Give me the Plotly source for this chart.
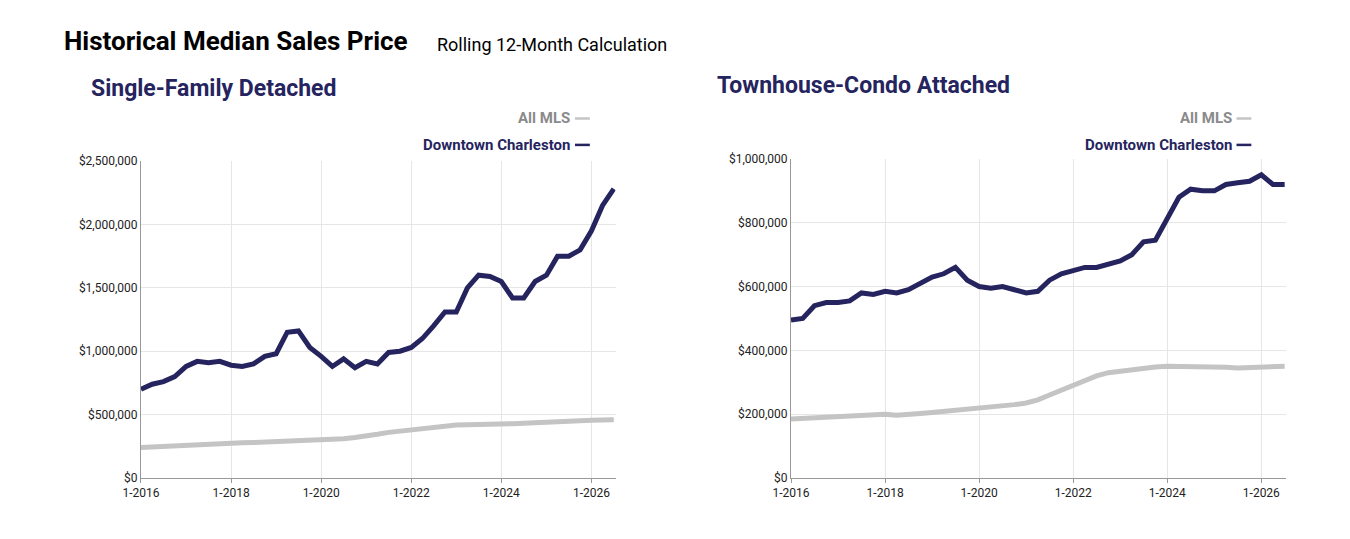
import pandas as pd
import plotly.graph_objects as go

# quarterly readings, Jan 2016 .. Jul 2026
dates = pd.date_range("2016-01-01", "2026-07-01", freq="QS").strftime("%Y-%m-%d").tolist()

sf_downtown = [700, 740, 760, 800, 880, 920, 910, 920, 890, 880, 900, 960, 980, 1150, 1160,
               1030, 960, 880, 940, 870, 920, 900, 990, 1000, 1030, 1100, 1200, 1310, 1310,
               1500, 1600, 1590, 1550, 1420, 1420, 1550, 1600, 1750, 1750, 1800, 1950, 2150, 2280]
sf_allmls = [240, 245, 250, 255, 260, 265, 268, 272, 275, 278, 280, 283, 285, 288, 290,
             292, 295, 300, 310, 320, 330, 345, 360, 370, 380, 395, 405, 412, 418, 420,
             420, 422, 425, 428, 432, 438, 442, 448, 450, 452, 455, 458, 460]

th_downtown = [495, 500, 540, 550, 550, 555, 580, 575, 585, 580, 590, 610, 630, 640, 660,
               620, 600, 595, 600, 590, 580, 585, 620, 640, 650, 660, 660, 670, 680, 700,
               740, 745, 810, 880, 905, 900, 900, 920, 925, 930, 950, 920, 920]
th_allmls = [185, 187, 190, 193, 195, 197, 198, 200, 200, 197, 198, 202, 205, 208, 212,
             215, 218, 222, 225, 230, 235, 245, 260, 275, 290, 305, 320, 330, 335, 340,
             345, 348, 350, 350, 350, 350, 348, 347, 345, 346, 348, 350, 350]

NAVY = "#25245e"
GREY = "#c4c4c4"
FONT = "Liberation Sans Narrow, Roboto, Arial Narrow, sans-serif"

fig = go.Figure()
panels = [("x", "y", sf_allmls, sf_downtown), ("x2", "y2", th_allmls, th_downtown)]
for xa, ya, allmls, downtown in panels:
    fig.add_trace(go.Scatter(x=dates, y=[v * 1000 for v in allmls], xaxis=xa, yaxis=ya,
                             mode="lines", line=dict(color=GREY, width=5), showlegend=False))
    fig.add_trace(go.Scatter(x=dates, y=[v * 1000 for v in downtown], xaxis=xa, yaxis=ya,
                             mode="lines", line=dict(color=NAVY, width=5), showlegend=False))

xcommon = dict(type="date", range=["2016-01-01", "2026-07-15"], tickformat="%-m-%Y",
               dtick="M24", tick0="2016-01-01", showgrid=True, gridcolor="#e6e6e6",
               showline=True, linecolor="#999", ticks="outside", tickcolor="#999", ticklen=4,
               tickfont=dict(size=12, color="#222"))
ycommon = dict(showgrid=True, gridcolor="#e6e6e6", showline=True, linecolor="#999",
               tickprefix="$", tickformat=",d", tickfont=dict(size=12, color="#222"))

fig.update_layout(
    width=1350, height=539, paper_bgcolor="white", plot_bgcolor="white",
    margin=dict(l=0, r=0, t=0, b=0, autoexpand=False), font=dict(family=FONT),
    xaxis=dict(xcommon, domain=[0.0985, 0.45], anchor="y"),
    yaxis=dict(ycommon, domain=[0.128, 0.716], range=[0, 2500000], dtick=500000, anchor="x"),
    xaxis2=dict(xcommon, domain=[0.58, 0.947], anchor="y2"),
    yaxis2=dict(ycommon, domain=[0.128, 0.72], range=[0, 1000000], dtick=200000, anchor="x2"),
)

ann = [
    dict(x=0.04, y=0.97, text="<b>Historical Median Sales Price</b>", font=dict(size=26, color="black")),
    dict(x=0.316, y=0.955, text="Rolling 12-Month Calculation", font=dict(size=18, color="black")),
    dict(x=0.06, y=0.88, text="<b>Single-Family Detached</b>", font=dict(size=23, color=NAVY)),
    dict(x=0.524, y=0.885, text="<b>Townhouse-Condo Attached</b>", font=dict(size=23, color=NAVY)),
]
for a in ann:
    fig.add_annotation(xref="paper", yref="paper", xanchor="left", yanchor="top", showarrow=False, **a)

# legend entries drawn as text with a short dash
for right in (0.418, 0.908):
    fig.add_annotation(xref="paper", yref="paper", x=right, y=0.795, xanchor="right", yanchor="middle",
                       showarrow=False, text="<b>All MLS</b>", font=dict(size=15, color="#8a8a8a"))
    fig.add_annotation(xref="paper", yref="paper", x=right, y=0.746, xanchor="right", yanchor="middle",
                       showarrow=False, text="<b>Downtown Charleston</b>", font=dict(size=15, color=NAVY))
    fig.add_shape(type="line", xref="paper", yref="paper", x0=right + 0.002, x1=right + 0.013,
                  y0=0.795, y1=0.795, line=dict(color=GREY, width=2.5))
    fig.add_shape(type="line", xref="paper", yref="paper", x0=right + 0.002, x1=right + 0.013,
                  y0=0.746, y1=0.746, line=dict(color=NAVY, width=2.5))

fig.write_html("out.html")
